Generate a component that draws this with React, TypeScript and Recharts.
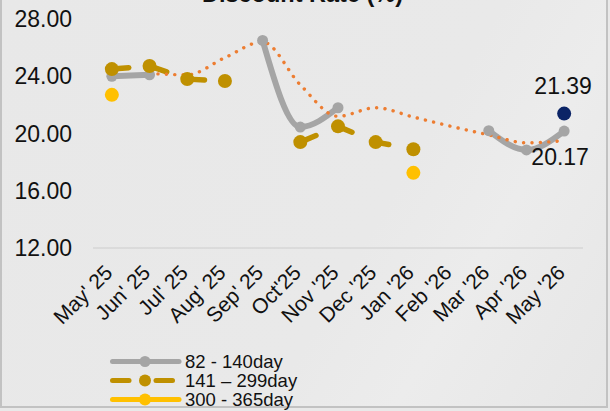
import { LineChart, Line, XAxis, YAxis, Legend, LabelList } from "recharts"

const months = ["May' 25", "Jun' 25", "Jul' 25", "Aug' 25", "Sep' 25", "Oct'25", "Nov '25", "Dec '25", "Jan '26", "Feb '26", "Mar '26", "Apr '26", "May '26"]
const short = [24.0, 24.1, null, null, 26.5, 20.45, 21.8, null, null, null, 20.2, 18.85, 20.17]
const mid = [24.5, 24.72, 23.8, 23.67, null, 19.4, 20.5, 19.4, 18.9, null, null, null, null]
const long = [22.7, null, null, null, null, null, null, null, 17.25, null, null, null, null]
const trend = [null, 24.2, 24.1, 25.3, 26.4, 23.4, 21.2, 21.8, 21.15, 20.5, 19.9, 19.35, 19.5]
const latest = [null, null, null, null, null, null, null, null, null, null, null, null, 21.39]
const yTicks = [12, 16, 20, 24, 28]

const data = months.map((m, i) => ({
  month: m,
  short: short[i],
  mid: mid[i],
  long: long[i],
  trend: trend[i],
  latest: latest[i],
}))

const FONT = "'Liberation Sans', Arial, sans-serif"

const XTick = (props: any) => {
  const { x, y, payload } = props
  const ax = x + 2
  const ay = y + 26
  return (
    <text x={ax} y={ay} transform={`rotate(-45 ${ax} ${ay})`} textAnchor="end" fontSize={21} fill="#111" fontFamily={FONT}>
      {payload.value}
    </text>
  )
}

const YTick = (props: any) => {
  const { x, y, payload } = props
  return (
    <text x={x - 21} y={y + 8} textAnchor="end" fontSize={23} fill="#111" fontFamily={FONT}>
      {Number(payload.value).toFixed(2)}
    </text>
  )
}

const lastLabel = (dx: number, dy: number) => (props: any) => {
  const { x, y, value, index } = props
  if (index !== months.length - 1 || value == null) return null
  return (
    <text x={x + dx} y={y + dy} textAnchor="middle" fontSize={23} fill="#111" fontFamily={FONT}>
      {Number(value).toFixed(2)}
    </text>
  )
}

const legendRows = [
  { name: "82 - 140day", color: "#a5a5a5", dashed: false, r: 5.5 },
  { name: "141 – 299day", color: "#bf9000", dashed: true, r: 6 },
  { name: "300 - 365day", color: "#ffc000", dashed: false, r: 6 },
]

const LegendContent = () => (
  <div style={{ fontFamily: FONT, fontSize: 18.5, color: "#111" }}>
    {legendRows.map((row) => (
      <div key={row.name} style={{ display: "flex", alignItems: "center", height: 19 }}>
        <svg width={77} height={19}>
          {row.dashed ? (
            <>
              <line x1={4.5} y1={9.5} x2={21} y2={9.5} stroke={row.color} strokeWidth={5} strokeLinecap="round" />
              <line x1={48} y1={9.5} x2={64.5} y2={9.5} stroke={row.color} strokeWidth={5} strokeLinecap="round" />
            </>
          ) : (
            <line x1={4.5} y1={9.5} x2={71} y2={9.5} stroke={row.color} strokeWidth={5} strokeLinecap="round" />
          )}
          <circle cx={37} cy={9.5} r={row.r} fill={row.color} />
        </svg>
        <span style={{ lineHeight: "19px" }}>{row.name}</span>
      </div>
    ))}
  </div>
)

export default function App() {
  return (
    <div
      style={{
        position: "absolute",
        left: 0,
        top: 0,
        width: 610,
        height: 411,
        background: "#e9e9e9",
        overflow: "hidden",
      }}
    >
      <div
        style={{
          position: "absolute",
          left: 0,
          top: -4,
          width: 604,
          height: 410,
          borderLeft: "2px solid #c2c2c2",
          borderRight: "2px solid #c2c2c2",
          borderBottom: "2px solid #c2c2c2",
          background: "linear-gradient(120deg, #e8e8e8 0%, #e9e9e9 60%, #ececec 75%, #e6e6e6 100%)",
        }}
      />
      <div
        style={{
          position: "absolute",
          left: 0,
          width: 605,
          top: -19,
          textAlign: "center",
          fontFamily: FONT,
          fontWeight: "bold",
          fontSize: 23.5,
          color: "#111",
          lineHeight: "27px",
        }}
      >
        Discount Rate (%)
      </div>
      <div style={{ position: "absolute", left: 0, top: 0 }}>
        <LineChart width={610} height={411} data={data} margin={{ top: 19, right: 27, left: 0, bottom: 103 }}>
          <XAxis
            dataKey="month"
            interval={0}
            height={60}
            tick={<XTick />}
            tickLine={false}
            tickSize={0}
            tickMargin={0}
            axisLine={{ stroke: "#d6d6d6", strokeWidth: 1.5 }}
            padding={{ left: 18.85, right: 18.85 }}
          />
          <YAxis
            width={93}
            domain={[12, 28]}
            ticks={yTicks}
            interval={0}
            axisLine={false}
            tickLine={false}
            tickSize={0}
            tickMargin={0}
            tick={<YTick />}
          />
          <Legend
            layout="vertical"
            align="center"
            verticalAlign="middle"
            content={<LegendContent />}
            wrapperStyle={{ left: 108, top: 352, width: 200 }}
          />
          <Line
            dataKey="short"
            type="monotone"
            stroke="#a5a5a5"
            strokeWidth={6}
            dot={{ r: 5.5, fill: "#a5a5a5", stroke: "none" }}
            activeDot={false}
            isAnimationActive={false}
          >
            <LabelList dataKey="short" content={lastLabel(-4, 34)} />
          </Line>
          <Line
            dataKey="mid"
            type="linear"
            stroke="#bf9000"
            strokeWidth={5.5}
            strokeDasharray="17 22"
            strokeLinecap="round"
            dot={{ r: 7, fill: "#bf9000", stroke: "none", strokeDasharray: "" }}
            activeDot={false}
            isAnimationActive={false}
          />
          <Line
            dataKey="long"
            stroke="#ffc000"
            strokeWidth={5}
            dot={{ r: 7, fill: "#ffc000", stroke: "none" }}
            activeDot={false}
            isAnimationActive={false}
          />
          <Line
            dataKey="trend"
            type="monotone"
            stroke="#ed7d31"
            strokeWidth={3.4}
            strokeDasharray="0.1 8.3"
            strokeLinecap="round"
            dot={false}
            activeDot={false}
            isAnimationActive={false}
          />
          <Line
            dataKey="latest"
            stroke="#0b2466"
            dot={{ r: 7, fill: "#0b2466", stroke: "none" }}
            activeDot={false}
            isAnimationActive={false}
          >
            <LabelList dataKey="latest" content={lastLabel(-1, -20)} />
          </Line>
        </LineChart>
      </div>
    </div>
  )
}
